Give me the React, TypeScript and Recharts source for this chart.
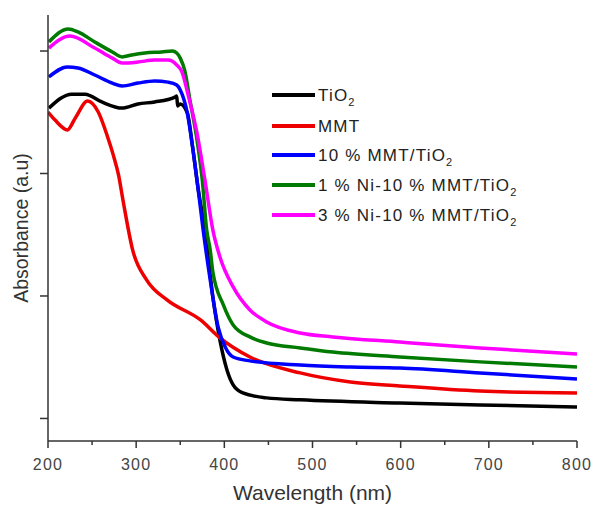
import { Line, LineChart, XAxis, YAxis } from "recharts";

// wavelength (nm) and absorbance (a.u.)
const tio2Nm = [201, 227, 242, 261, 284, 302, 321, 344, 346, 347, 350, 358, 364, 370, 378, 387, 395, 403, 410, 421, 448, 486, 599, 690, 800];
const tio2Abs = [1.767, 1.824, 1.824, 1.792, 1.767, 1.784, 1.792, 1.812, 1.816, 1.776, 1.784, 1.747, 1.608, 1.445, 1.269, 0.996, 0.82, 0.698, 0.637, 0.604, 0.584, 0.576, 0.563, 0.555, 0.547];

const mmtNm = [200, 208, 222, 231, 245, 257, 268, 274, 280, 285, 296, 312, 335, 373, 395, 429, 486, 543, 599, 690, 800];
const mmtAbs = [1.751, 1.718, 1.678, 1.727, 1.796, 1.751, 1.645, 1.576, 1.494, 1.392, 1.188, 1.065, 0.984, 0.902, 0.829, 0.751, 0.686, 0.649, 0.633, 0.612, 0.604];

const mmtTio2Nm = [201, 222, 234, 253, 273, 284, 302, 321, 336, 346, 350, 358, 364, 370, 376, 384, 393, 401, 410, 429, 486, 543, 599, 690, 800];
const mmtTio2Abs = [1.894, 1.935, 1.931, 1.902, 1.869, 1.857, 1.869, 1.878, 1.873, 1.861, 1.841, 1.747, 1.608, 1.445, 1.269, 1.065, 0.873, 0.792, 0.751, 0.735, 0.718, 0.71, 0.706, 0.686, 0.661];

const ni1Nm = [201, 223, 234, 253, 273, 284, 295, 310, 329, 341, 346, 350, 355, 361, 369, 375, 380, 384, 387, 399, 410, 429, 448, 486, 523, 599, 690, 800];
const ni1Abs = [2.037, 2.09, 2.078, 2.037, 1.996, 1.976, 1.984, 1.992, 1.996, 2.0, 1.992, 1.971, 1.922, 1.8, 1.637, 1.473, 1.269, 1.188, 1.098, 0.963, 0.882, 0.833, 0.808, 0.788, 0.771, 0.751, 0.731, 0.71];

const ni3Nm = [201, 225, 253, 273, 284, 302, 321, 336, 346, 352, 359, 369, 378, 387, 395, 410, 429, 448, 486, 523, 599, 690, 800];
const ni3Abs = [2.012, 2.061, 2.012, 1.971, 1.951, 1.955, 1.963, 1.963, 1.943, 1.914, 1.82, 1.665, 1.473, 1.269, 1.159, 1.037, 0.943, 0.894, 0.849, 0.833, 0.812, 0.788, 0.763];

const xTicks = [200, 250, 300, 350, 400, 450, 500, 550, 600, 650, 700, 750, 800];
const yTicks = [0.5, 1, 1.5, 2];

const toRows = (nm: number[], abs: number[]) => nm.map((w, i) => ({ nm: w, v: abs[i] }));

const series = [
  { name: "TiO", sub: "2", color: "#000000", data: toRows(tio2Nm, tio2Abs) },
  { name: "MMT", sub: "", color: "#ee0000", data: toRows(mmtNm, mmtAbs) },
  { name: "10 % MMT/TiO", sub: "2", color: "#0000ff", data: toRows(mmtTio2Nm, mmtTio2Abs) },
  { name: "1 % Ni-10 % MMT/TiO", sub: "2", color: "#007a00", data: toRows(ni1Nm, ni1Abs) },
  { name: "3 % Ni-10 % MMT/TiO", sub: "2", color: "#ff00ff", data: toRows(ni3Nm, ni3Abs) },
];

const font = "'Liberation Sans', Arial, sans-serif";
const axisColor = "#333";

const XTick = ({ x, y, payload }: any) => {
  const major = payload.value % 100 === 0;
  return (
    <g>
      <line x1={x} x2={x} y1={y} y2={y + (major ? 7 : 4)} stroke={axisColor} strokeWidth={1.5} />
      {major && (
        <text x={x} y={y + 29} textAnchor="middle" fontSize={16} letterSpacing={1.2} fill="#444" fontFamily={font}>
          {payload.value}
        </text>
      )}
    </g>
  );
};

const NoTick = () => <g />;

const legendRows = [95, 126, 155, 185, 215];

export default function App() {
  return (
    <div style={{ position: "absolute", left: 0, top: 0, width: 592, height: 507, background: "#fff" }}>
      <LineChart width={592} height={507} margin={{ top: 15, right: 15, bottom: 0, left: 0 }}>
        <XAxis
          dataKey="nm"
          type="number"
          domain={[200, 800]}
          ticks={xTicks}
          interval={0}
          allowDataOverflow
          height={66}
          tickSize={0}
          tickMargin={0}
          tickLine={false}
          tick={<XTick />}
          axisLine={{ stroke: axisColor, strokeWidth: 1.5 }}
          label={{
            content: ({ viewBox }: any) => (
              <text x={viewBox.x + viewBox.width / 2} y={500} textAnchor="middle" fontSize={21} fill="#333" fontFamily={font}>
                Wavelength (nm)
              </text>
            ),
          }}
        />
        <XAxis
          xAxisId="top"
          orientation="top"
          dataKey="nm"
          type="number"
          domain={[200, 800]}
          ticks={[500]}
          height={0}
          mirror
          tickSize={4}
          tick={NoTick}
          tickLine={{ stroke: axisColor }}
          axisLine={{ stroke: axisColor, strokeWidth: 1.5 }}
        />
        <YAxis
          type="number"
          domain={[0.408, 2.147]}
          ticks={yTicks}
          allowDataOverflow
          width={48}
          tickSize={8}
          tick={NoTick}
          tickLine={{ stroke: axisColor, strokeWidth: 1.5 }}
          axisLine={{ stroke: axisColor, strokeWidth: 1.5 }}
          label={{
            content: ({ viewBox }: any) => {
              const cy = viewBox.y + viewBox.height / 2;
              return (
                <text x={28} y={cy} transform={`rotate(-90 28 ${cy})`} textAnchor="middle" fontSize={19.5} fill="#333" fontFamily={font}>
                  Absorbance (a.u)
                </text>
              );
            },
          }}
        />
        <YAxis
          yAxisId="right"
          orientation="right"
          type="number"
          domain={[0.408, 2.147]}
          ticks={[1.278]}
          width={0}
          mirror
          tickSize={4}
          tick={NoTick}
          tickLine={{ stroke: axisColor }}
          axisLine={{ stroke: axisColor, strokeWidth: 1.5 }}
        />
        {series.map((s) => (
          <Line
            key={s.name}
            data={s.data}
            dataKey="v"
            type="monotone"
            stroke={s.color}
            strokeWidth={3.5}
            dot={false}
            isAnimationActive={false}
          />
        ))}
      </LineChart>
      <svg width={592} height={507} style={{ position: "absolute", left: 0, top: 0, pointerEvents: "none" }}>
        {series.map((s, i) => (
          <g key={s.name}>
            <line x1={272} x2={315} y1={legendRows[i]} y2={legendRows[i]} stroke={s.color} strokeWidth={4} />
            <text x={318} y={legendRows[i] + 6} fontSize={17} letterSpacing={1.2} fill="#222" fontFamily={font}>
              {s.name}
              {s.sub && (
                <tspan dy={5} fontSize={11} letterSpacing={0}>
                  {s.sub}
                </tspan>
              )}
            </text>
          </g>
        ))}
      </svg>
    </div>
  );
}
